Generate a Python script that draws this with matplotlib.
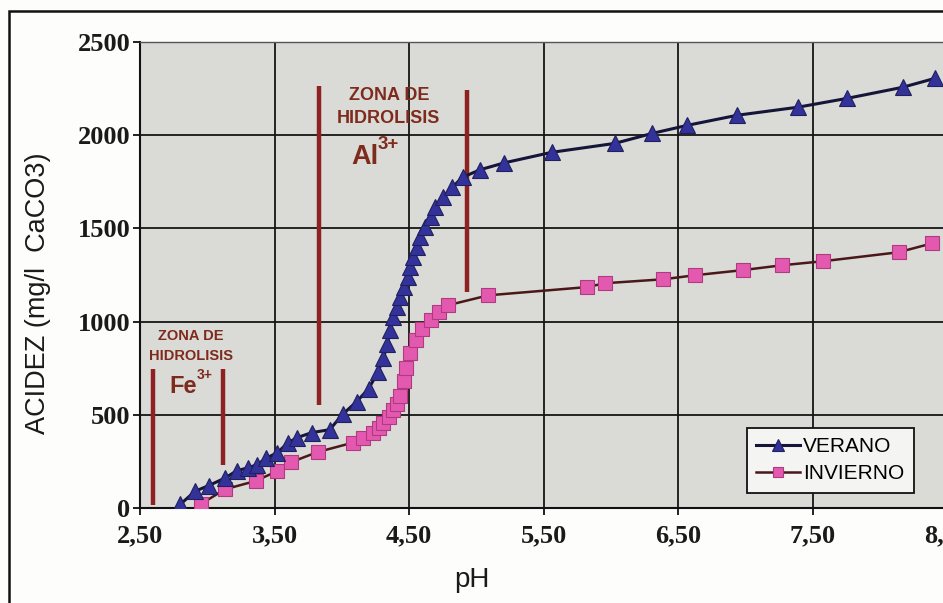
import matplotlib
matplotlib.use("Agg")
import matplotlib.pyplot as plt
from matplotlib.patches import Rectangle
from matplotlib.ticker import FuncFormatter

# ---------------- data ----------------
verano_ph = [2.80, 2.91, 3.01, 3.13, 3.22, 3.30, 3.37, 3.44, 3.52, 3.60, 3.67, 3.78,
             3.91, 4.01, 4.11, 4.20, 4.27, 4.31, 4.34, 4.36, 4.38, 4.41, 4.43, 4.46,
             4.49, 4.51, 4.53, 4.56, 4.58, 4.62, 4.66, 4.69, 4.75, 4.82, 4.90, 5.03,
             5.21, 5.56, 6.03, 6.31, 6.57, 6.94, 7.39, 7.76, 8.17, 8.41]
verano_acid = [20, 90, 120, 160, 200, 215, 232, 268, 296, 350, 378, 405,
               420, 505, 570, 640, 730, 805, 880, 955, 1024, 1077, 1131, 1185,
               1238, 1292, 1345, 1399, 1453, 1506, 1560, 1613, 1667, 1720, 1775, 1815,
               1852, 1908, 1956, 2010, 2053, 2107, 2150, 2198, 2257, 2305]

invierno_ph = [2.95, 3.13, 3.36, 3.52, 3.62, 3.82, 4.08, 4.16, 4.23, 4.28, 4.31, 4.35,
               4.38, 4.41, 4.43, 4.46, 4.48, 4.51, 4.55, 4.60, 4.66, 4.72, 4.79, 5.09,
               5.82, 5.96, 6.39, 6.63, 6.98, 7.27, 7.58, 8.14, 8.39]
invierno_acid = [20, 100, 145, 198, 245, 300, 350, 375, 402, 430, 456, 490,
                 525, 560, 600, 680, 750, 830, 900, 960, 1010, 1050, 1088, 1141,
                 1185, 1206, 1227, 1249, 1276, 1302, 1324, 1372, 1420]

# hydrolysis zone markers (pH, bottom, top)
zone_lines_ph = [2.60, 3.12, 3.83, 4.93]
zone_lines_bottom = [16, 230, 552, 1157]
zone_lines_top = [746, 746, 2262, 2240]

x_ticks = [2.5, 3.5, 4.5, 5.5, 6.5, 7.5, 8.5]
y_ticks = [0, 500, 1000, 1500, 2000, 2500]

# ---------------- figure ----------------
W, H = 943, 603
fig = plt.figure(figsize=(W / 100, H / 100), dpi=100)
fig.patch.set_facecolor("#fdfdfb")

ax = fig.add_axes([140 / W, 1 - 508 / H, 807 / W, 466 / H])
ax.set_facecolor("#dadad7")
ax.set_xlim(2.5, 8.5)
ax.set_ylim(0, 2500)
ax.set_xticks(x_ticks)
ax.set_yticks(y_ticks)
ax.xaxis.set_major_formatter(FuncFormatter(lambda v, p: f"{v:.2f}".replace(".", ",")))

ax.grid(True, color="#151515", linewidth=1.3)
ax.set_axisbelow(True)

for s in ["left", "bottom"]:
    ax.spines[s].set_color("#111111")
    ax.spines[s].set_linewidth(1.5)
ax.spines["right"].set_visible(False)
ax.spines["top"].set_color("#555555")
ax.spines["top"].set_linewidth(1.0)
ax.spines["top"].set_linestyle((0, (2, 1)))

ax.tick_params(axis="both", direction="out", length=5, width=1.3, color="#111111")
ax.tick_params(axis="x", pad=7)
ax.tick_params(axis="y", pad=2)
for lab in ax.get_xticklabels() + ax.get_yticklabels():
    lab.set_fontfamily("Liberation Serif")
    lab.set_fontweight("bold")
    lab.set_fontsize(19)
    lab.set_color("#1a1a1a")

# zone lines
zone_color = "#8e2222"
for xp, yb, yt in zip(zone_lines_ph, zone_lines_bottom, zone_lines_top):
    ax.plot([xp, xp], [yb, yt], color=zone_color, linewidth=3.2, solid_capstyle="butt", zorder=2)

# series
ax.plot(verano_ph, verano_acid, color="#15153a", linewidth=2.2,
        marker="^", markersize=11, markerfacecolor="#32329a", markeredgecolor="#20205e",
        markeredgewidth=0.8, label="VERANO", zorder=4)
ax.plot(invierno_ph, invierno_acid, color="#4a1818", linewidth=1.8,
        marker="s", markersize=10, markerfacecolor="#e459b0", markeredgecolor="#b03a80",
        markeredgewidth=0.8, label="INVIERNO", zorder=3)

# zone texts
txt_color = "#7e2a1c"
tk = dict(fontweight="bold", family="Liberation Sans", color=txt_color)
ax.text(2.88, 925, "ZONA DE", ha="center", va="center", fontsize=10.5, **tk)
ax.text(2.88, 817, "HIDROLISIS", ha="center", va="center", fontsize=10.5, **tk)
ax.text(2.925, 654, "Fe", ha="right", va="center", fontsize=17, **tk)
ax.text(2.925, 712, "3+", ha="left", va="center", fontsize=10, **tk)

ax.text(4.35, 2215, "ZONA DE", ha="center", va="center", fontsize=13, **tk)
ax.text(4.35, 2090, "HIDROLISIS", ha="center", va="center", fontsize=13, **tk)
ax.text(4.27, 1885, "Al", ha="right", va="center", fontsize=19.5, **tk)
ax.text(4.27, 1950, "3+", ha="left", va="center", fontsize=13.5, **tk)

# axis labels
ax.set_ylabel("ACIDEZ (mg/l  CaCO3)", fontsize=19.5, family="Liberation Sans", color="#1a1a1a")
ax.yaxis.set_label_coords((51 - 140) / 807, (508 - 293) / 466)
ax.set_xlabel("pH", fontsize=20, family="Liberation Sans", color="#1a1a1a")
ax.xaxis.set_label_coords((472 - 140) / 807, -(567 - 508) / 466)

leg = ax.legend(loc="upper left", bbox_to_anchor=(747 / W, 1 - 428 / H),
                bbox_transform=fig.transFigure, borderaxespad=0, fancybox=False,
                frameon=True, prop={"family": "Liberation Sans", "size": 15},
                handlelength=2.1, handletextpad=0.15, markerscale=0.75,
                borderpad=0.45, labelspacing=0.38)
leg.get_frame().set_edgecolor("#111111")
leg.get_frame().set_linewidth(1.3)
leg.get_frame().set_facecolor("#f4f4f2")
leg.get_frame().set_alpha(1)

# outer figure frame
fig.patches.append(Rectangle((9 / W, -0.02), 1.05, 1 - 11.5 / H + 0.02,
                             transform=fig.transFigure, fill=False,
                             edgecolor="#111111", linewidth=1.8, zorder=10))

fig.savefig("out.png", dpi=100, facecolor=fig.get_facecolor())
